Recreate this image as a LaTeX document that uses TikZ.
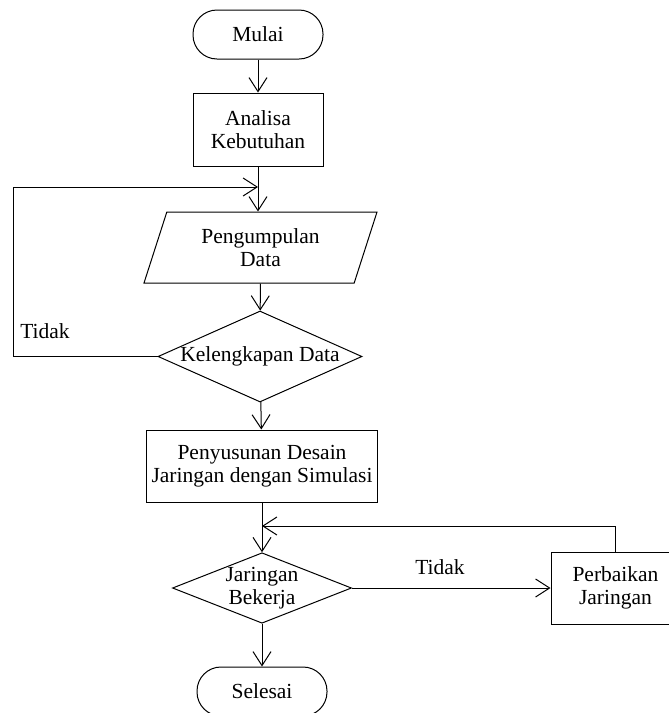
\documentclass[tikz,border=0pt]{standalone}
\usepackage{fontspec}
\setmainfont{Liberation Serif}
\usetikzlibrary{shapes.geometric,arrows.meta}
\begin{document}
\begin{tikzpicture}[x=1pt,y=-1pt,line width=1pt,
    >={Straight Barb[length=14pt,width=18pt]},
    every node/.style={font=\fontsize{21.5}{23}\selectfont,align=center},
    terminal/.style={draw,rectangle,rounded corners=24pt,minimum width=130pt,minimum height=49pt},
    proses/.style={draw,rectangle,minimum height=72pt},
    data/.style={draw,trapezium,trapezium left angle=63,trapezium right angle=117,
        trapezium stretches body,minimum width=233pt,minimum height=71pt},
    keputusan/.style={draw,diamond,inner sep=0pt}]
            \useasboundingbox (0,0) rectangle (669,713);
            \node[terminal] (mulai) at (258,34.5) {Mulai};
            \node[proses,minimum width=130pt,minimum height=73pt] (analisa) at (258,129.5) {Analisa\\Kebutuhan};
            \node[data] (pengumpulan) at (260.5,247.5) {Pengumpulan\\Data};
            \node[keputusan,minimum width=204pt,minimum height=91pt,aspect=2.24] (kelengkapan) at (260,356.5) {Kelengkapan Data};
            \node[proses,minimum width=231pt] (penyusunan) at (262,466) {Penyusunan Desain\\Jaringan dengan Simulasi};
            \node[keputusan,minimum width=178pt,minimum height=70pt,aspect=2.54] (bekerja) at (262,588) {Jaringan\\Bekerja};
            \node[proses,minimum width=129pt] (perbaikan) at (615.5,588) {Perbaikan\\Jaringan};
            \node[terminal] (selesai) at (262,691.5) {Selesai};
            \node (tidak1) at (45,331) {Tidak};
            \node (tidak2) at (440,567) {Tidak};
            \coordinate (gabung1) at (258,187);
            \coordinate (gabung2) at (262,526);
            % alur utama
            \draw[->] (mulai) -- (analisa);
            \draw (analisa) -- (gabung1);
            \draw[->] (gabung1) -- (gabung1 |- pengumpulan.north);
            \draw[->] (pengumpulan) -- (kelengkapan);
            \draw[->] (kelengkapan) -- (penyusunan);
            \draw (penyusunan) -- (gabung2);
            \draw[->] (gabung2) -- (bekerja.north);
            \draw[->] (bekerja) -- (selesai);
            % alur kembali
            \draw[->] (kelengkapan.west) -- ++(-144,0) |- (gabung1);
            \draw[->] (bekerja.east) -- (perbaikan.west);
            \draw[->] (perbaikan.north) |- (gabung2);
\end{tikzpicture}
\end{document}
